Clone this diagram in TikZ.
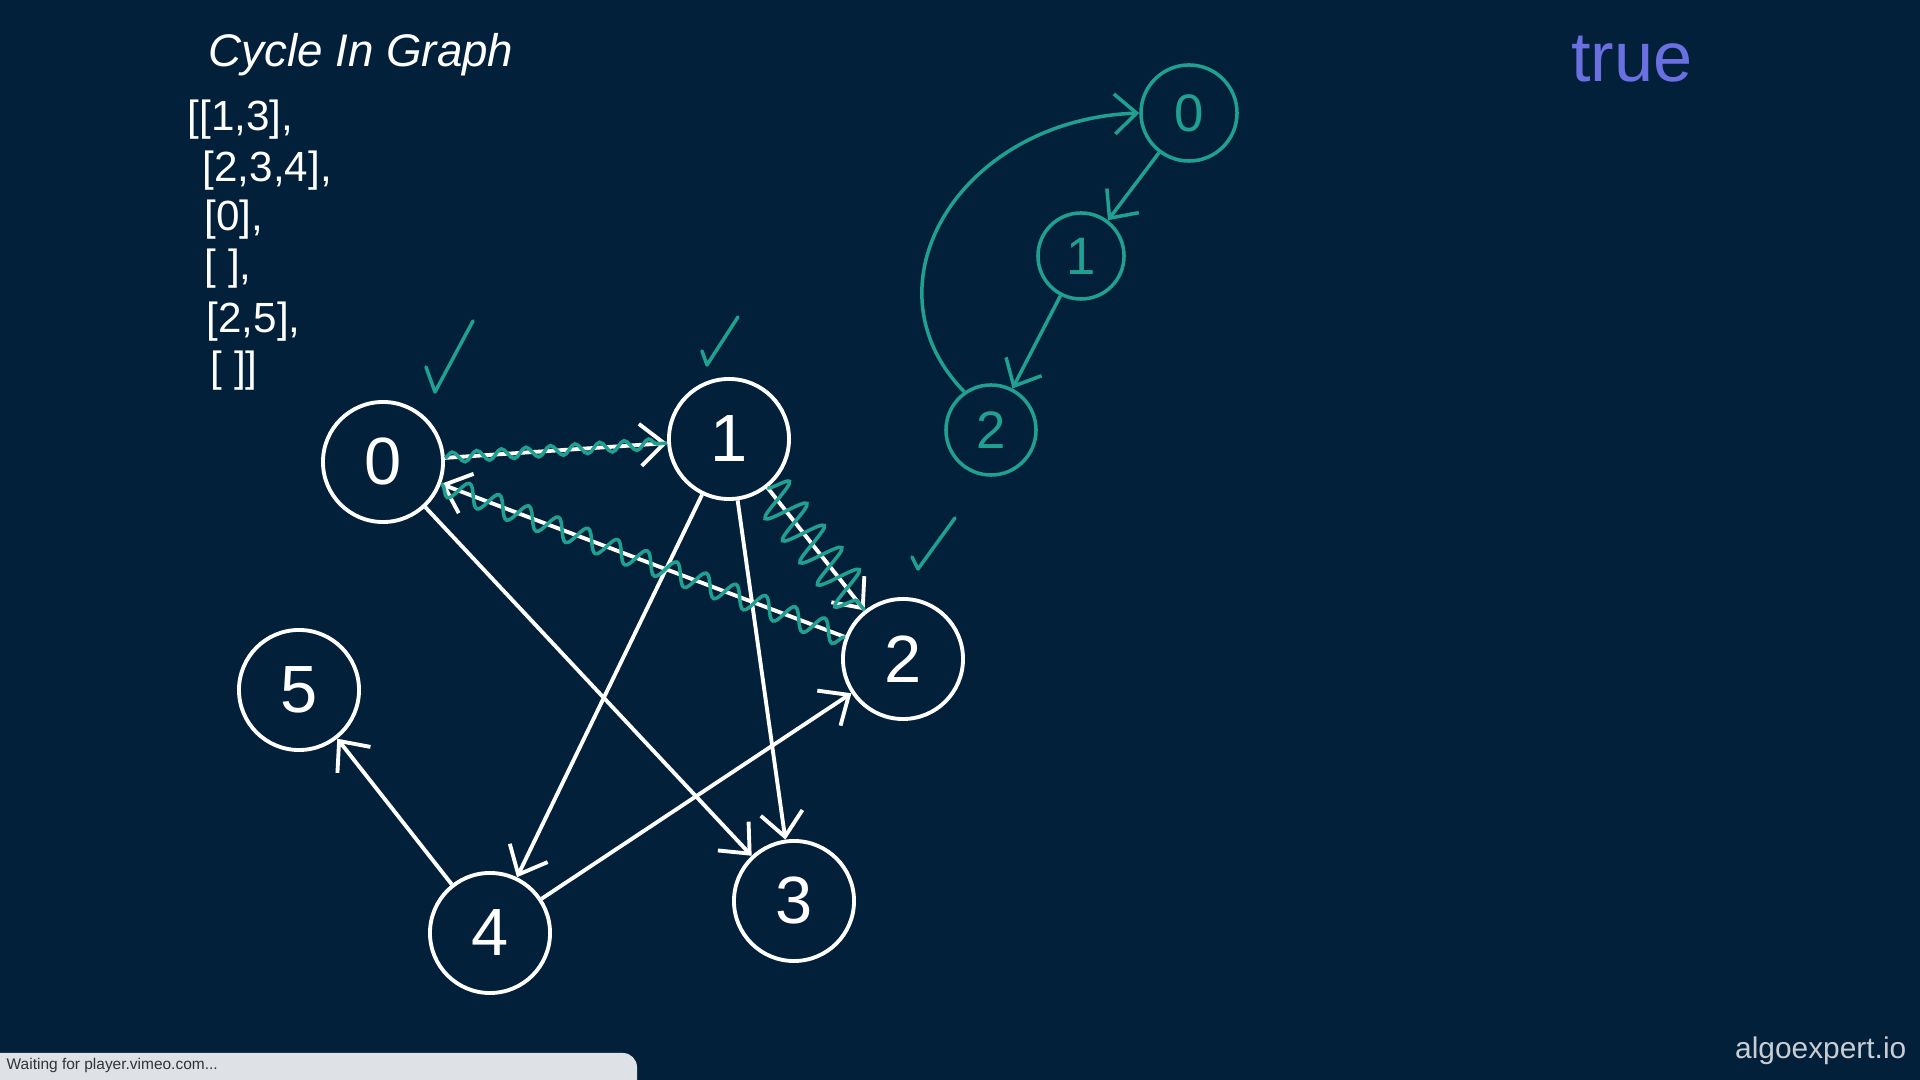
\documentclass[tikz,border=0pt]{standalone}
\usepackage{fontspec}
\setmainfont{Liberation Sans}
\usetikzlibrary{arrows.meta,positioning,decorations.pathmorphing}
\definecolor{boardbg}{HTML}{03203A}
\definecolor{tealink}{HTML}{1FA091}
\definecolor{truecol}{HTML}{6A70E0}
\definecolor{barcol}{HTML}{DEE1E5}
\definecolor{logocol}{HTML}{C8CDD3}

\begin{document}
\begin{tikzpicture}[
  x=0.01cm,y=-0.01cm,
  vertex/.style={draw=white,circle,line width=1.1pt,minimum size=12mm,inner sep=0pt,
                 text=white,font=\fontsize{19}{23}\selectfont},
  tvertex/.style={draw=tealink,circle,line width=1pt,minimum size=9mm,inner sep=0pt,
                  text=tealink,font=\fontsize{15}{17}\selectfont},
  edge/.style={-{Straight Barb[length=2.4mm,width=4.2mm]},white,line width=1.1pt},
  tedge/.style={-{Straight Barb[length=2.2mm,width=4mm]},tealink,line width=1pt},
  wave/.style={tealink,line width=1pt,decorate},
  adj/.style={anchor=west,inner sep=0pt,text=white,font=\fontsize{12}{14}\selectfont},
  tick/.style={tealink,line width=1pt,line cap=round,line join=round}
]
  \fill[boardbg] (0,0) rectangle (1920,1080);
  \useasboundingbox (0,0) rectangle (1920,1080);

  \node[text=white,font=\fontsize{13}{15}\selectfont\itshape] (title) at (361,55) {Cycle In Graph};
  \node[adj] (adj0) at (187,120) {[[1,3],};
  \node[adj] (adj1) at (202,171) {[2,3,4],};
  \node[adj] (adj2) at (204,220) {[0],};
  \node[adj] (adj3) at (204,269) {[ ],};
  \node[adj] (adj4) at (206,322) {[2,5],};
  \node[adj] (adj5) at (210,371) {[ ]]};

  \node[vertex] (n0) at (383,462) {0};
  \node[vertex] (n1) at (729,439) {1};
  \node[vertex] (n2) at (903,659) {2};
  \node[vertex] (n3) at (794,901) {3};
  \node[vertex] (n4) at (490,933) {4};
  \node[vertex] (n5) at (299,690) {5};
  \draw[edge] (n0)--(n1);
  \draw[edge] (n0)--(n3);
  \draw[edge] (n1)--(n2);
  \draw[edge] (n1)--(n3);
  \draw[edge] (n1)--(n4);
  \draw[edge] (n2)--(n0);
  \draw[edge] (n4)--(n2);
  \draw[edge] (n4)--(n5);

  \draw[wave,decoration={snake,amplitude=1.5pt,segment length=7pt}] (n0)--(n1);
  \draw[wave,decoration={snake,amplitude=6pt,segment length=8pt}] (n1)--(n2);
  \draw[wave,decoration={snake,amplitude=3pt,segment length=9pt}] (n2)--(n0);

  \draw[tick] (426,367)--(435,392)--(473,321);
  \draw[tick] (702,351)--(707,365)--(738,317);
  \draw[tick] (912,557)--(918,569)--(955,518);

  \node[tvertex,minimum size=9.6mm] (t0) at (1189,113) {0};
  \node[tvertex,minimum size=8.6mm] (t1) at (1081,256) {1};
  \node[tvertex] (t2) at (991,430) {2};
  \draw[tedge] (t0)--(t1);
  \draw[tedge] (t1)--(t2);
  \draw[tedge] (t2.125) .. controls (860,285) and (960,120) .. (t0.west);

  \node[text=truecol,font=\fontsize{20}{24}\selectfont] (result) at (1632,59) {true};

  \fill[barcol,rounded corners=4pt] (-20,1053) rectangle (637,1100);
  \node[anchor=west,inner sep=0pt,text=black!80,font=\fontsize{4.4}{5}\selectfont] (status) at (6,1066) {Waiting for player.vimeo.com...};
  \node[anchor=east,inner sep=0pt,text=logocol,font=\fontsize{8.5}{10}\selectfont] (logo) at (1907,1051) {algoexpert.io};
\end{tikzpicture}
\end{document}
